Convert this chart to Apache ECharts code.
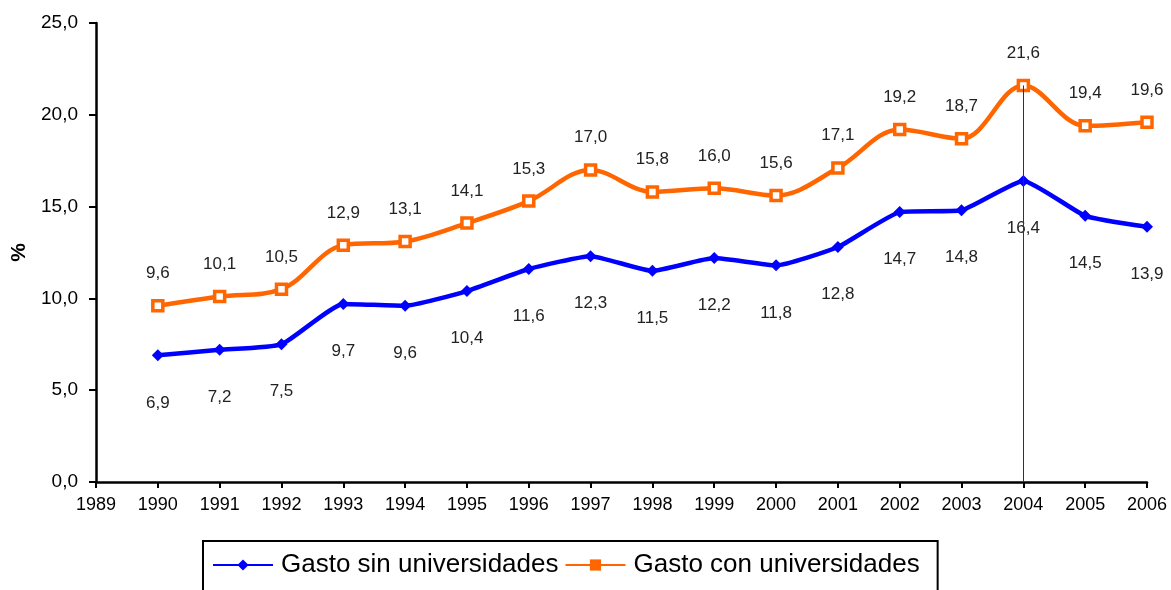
<!DOCTYPE html>
<html lang="es">
<head>
    <meta charset="utf-8" />
    <title>Gasto</title>
    <script src="https://cdn.jsdelivr.net/npm/echarts@6/dist/echarts.min.js"></script>
    <style>
        body { margin: 0; padding: 0; background: #fff; }
        #main { width: 1171px; height: 590px; }
    </style>
</head>
<body>
<div id="main"></div>
<script type="text/javascript">
    // Data
    const years = [1990, 1991, 1992, 1993, 1994, 1995, 1996, 1997, 1998, 1999, 2000, 2001, 2002, 2003, 2004, 2005, 2006];
    const sinUniversidades = [6.9, 7.2, 7.5, 9.7, 9.6, 10.4, 11.6, 12.3, 11.5, 12.2, 11.8, 12.8, 14.7, 14.8, 16.4, 14.5, 13.9];
    const conUniversidades = [9.6, 10.1, 10.5, 12.9, 13.1, 14.1, 15.3, 17.0, 15.8, 16.0, 15.6, 17.1, 19.2, 18.7, 21.6, 19.4, 19.6];
    const markYear = 2004;

    const fmt = v => v.toFixed(1).replace('.', ',');
    const font = 'Liberation Sans, Arial, sans-serif';
    const blue = '#0000ff';
    const orange = '#ff6600';

    var myChart = echarts.init(document.getElementById('main'));

    var option = {
        backgroundColor: '#fff',
        animation: false,
        textStyle: { fontFamily: font },
        grid: { left: 96, right: 24, top: 23, bottom: 108 },
        legend: {
            left: 203,
            top: 541,
            padding: [11, 18, 40, 9],
            borderColor: '#000',
            borderWidth: 2,
            itemWidth: 60,
            itemHeight: 14,
            itemGap: 6,
            textStyle: { fontSize: 26, color: '#000', fontFamily: font, padding: [0, 0, 0, 3] },
            data: [
                { name: 'Gasto sin universidades', itemStyle: { color: blue } },
                { name: 'Gasto con universidades', itemStyle: { color: orange, borderWidth: 0 } }
            ]
        },
        xAxis: {
            type: 'value',
            min: 1989,
            max: 2006,
            interval: 1,
            splitLine: { show: false },
            axisLine: { lineStyle: { color: '#000', width: 2.5 } },
            axisTick: { lineStyle: { color: '#000', width: 2 }, length: 6 },
            axisLabel: { color: '#000', fontSize: 18, margin: 14, formatter: v => String(v) }
        },
        yAxis: {
            type: 'value',
            min: 0,
            max: 25,
            interval: 5,
            name: '%',
            nameLocation: 'middle',
            nameGap: 66,
            nameTextStyle: { fontSize: 21, fontWeight: 'bold', color: '#000' },
            splitLine: { show: false },
            axisLine: { show: true, lineStyle: { color: '#000', width: 2.5 } },
            axisTick: { show: true, lineStyle: { color: '#000', width: 2 }, length: 7 },
            axisLabel: { color: '#000', fontSize: 19, margin: 18, formatter: v => fmt(v) }
        },
        series: [
            {
                name: 'Gasto sin universidades',
                type: 'line',
                data: years.map((y, i) => [y, sinUniversidades[i]]),
                smooth: 0.15,
                symbol: 'diamond',
                symbolSize: 12,
                color: blue,
                lineStyle: { width: 4.5, color: blue },
                itemStyle: { color: blue },
                label: {
                    show: true,
                    position: 'bottom',
                    distance: 33,
                    fontSize: 17,
                    color: '#222',
                    formatter: p => fmt(p.value[1])
                },
                z: 3
            },
            {
                name: 'Gasto con universidades',
                type: 'line',
                data: years.map((y, i) => [y, conUniversidades[i]]),
                smooth: 0.35,
                symbol: 'rect',
                symbolSize: 10,
                color: orange,
                lineStyle: { width: 4.5, color: orange },
                itemStyle: { color: '#fff', borderColor: orange, borderWidth: 3.5 },
                label: {
                    show: true,
                    position: 'top',
                    distance: 17,
                    fontSize: 17,
                    color: '#222',
                    formatter: p => fmt(p.value[1])
                },
                markLine: {
                    silent: true,
                    symbol: 'none',
                    label: { show: false },
                    lineStyle: { color: '#333', width: 1, type: 'solid' },
                    data: [[
                        { coord: [markYear, conUniversidades[years.indexOf(markYear)]] },
                        { coord: [markYear, 0] }
                    ]]
                },
                z: 4
            }
        ]
    };

    myChart.setOption(option);
</script>
</body>
</html>
